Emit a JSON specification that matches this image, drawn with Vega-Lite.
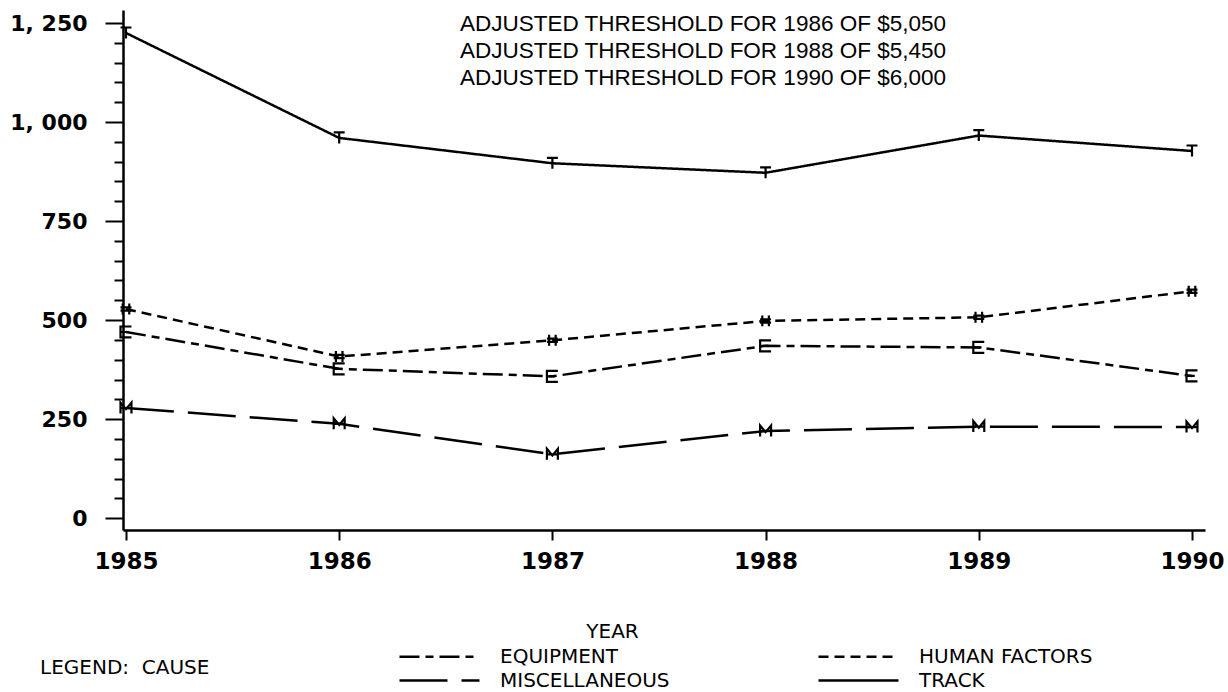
{
  "$schema": "https://vega.github.io/schema/vega-lite/v6.json",
  "width": 1082,
  "height": 520,
  "autosize": {"type": "none"},
  "padding": {"left": 123, "top": 10, "right": 23, "bottom": 162},
  "background": "white",
  "config": {"view": {"stroke": null}},
  "title": {
    "text": ["ADJUSTED THRESHOLD FOR 1986 OF $5,050", "ADJUSTED THRESHOLD FOR 1988 OF $5,450", "ADJUSTED THRESHOLD FOR 1990 OF $6,000"],
    "anchor": "start",
    "frame": "group",
    "dx": 337,
    "offset": -97,
    "baseline": "alphabetic",
    "lineHeight": 27,
    "font": "Liberation Sans",
    "fontSize": 22.5,
    "fontWeight": "normal",
    "color": "black"
  },
  "data": {
    "values": [
      {"year": 1985, "cause": "EQUIPMENT", "value": 470},
      {"year": 1986, "cause": "EQUIPMENT", "value": 377},
      {"year": 1987, "cause": "EQUIPMENT", "value": 358},
      {"year": 1988, "cause": "EQUIPMENT", "value": 435},
      {"year": 1989, "cause": "EQUIPMENT", "value": 431},
      {"year": 1990, "cause": "EQUIPMENT", "value": 359},
      {"year": 1985, "cause": "HUMAN FACTORS", "value": 528},
      {"year": 1986, "cause": "HUMAN FACTORS", "value": 408},
      {"year": 1987, "cause": "HUMAN FACTORS", "value": 449},
      {"year": 1988, "cause": "HUMAN FACTORS", "value": 498},
      {"year": 1989, "cause": "HUMAN FACTORS", "value": 507},
      {"year": 1990, "cause": "HUMAN FACTORS", "value": 573},
      {"year": 1985, "cause": "MISCELLANEOUS", "value": 278},
      {"year": 1986, "cause": "MISCELLANEOUS", "value": 238},
      {"year": 1987, "cause": "MISCELLANEOUS", "value": 161},
      {"year": 1988, "cause": "MISCELLANEOUS", "value": 220},
      {"year": 1989, "cause": "MISCELLANEOUS", "value": 231},
      {"year": 1990, "cause": "MISCELLANEOUS", "value": 230},
      {"year": 1985, "cause": "TRACK", "value": 1225},
      {"year": 1986, "cause": "TRACK", "value": 960},
      {"year": 1987, "cause": "TRACK", "value": 896},
      {"year": 1988, "cause": "TRACK", "value": 872},
      {"year": 1989, "cause": "TRACK", "value": 966},
      {"year": 1990, "cause": "TRACK", "value": 927}
    ]
  },
  "encoding": {
    "x": {
      "field": "year",
      "type": "quantitative",
      "scale": {"domain": [1984.986, 1990.061], "nice": false, "zero": false},
      "axis": {
        "values": [1985, 1986, 1987, 1988, 1989, 1990],
        "format": "d",
        "grid": false,
        "domainColor": "black",
        "domainWidth": 2.5,
        "tickColor": "black",
        "tickWidth": 2,
        "tickSize": 10,
        "labelFont": "DejaVu Sans",
        "labelFontWeight": "bold",
        "labelFontSize": 23,
        "labelColor": "black",
        "labelPadding": 10,
        "labelFlush": false,
        "title": "YEAR",
        "titleFont": "DejaVu Sans",
        "titleFontSize": 20,
        "titleFontWeight": "normal",
        "titleColor": "black",
        "titleX": 489,
        "titleY": 101,
        "titleAlign": "center",
        "titleBaseline": "middle"
      }
    },
    "y": {
      "field": "value",
      "type": "quantitative",
      "scale": {"domain": [-30, 1283], "nice": false, "zero": false},
      "axis": {
        "values": [0, 50, 100, 150, 200, 250, 300, 350, 400, 450, 500, 550, 600, 650, 700, 750, 800, 850, 900, 950, 1000, 1050, 1100, 1150, 1200, 1250],
        "format": ",d",
        "labelExpr": "datum.value % 250 === 0 ? (datum.value >= 1000 ? replace(datum.label, ',', ', ') : datum.label) : ''",
        "grid": false,
        "domainColor": "black",
        "domainWidth": 2.5,
        "tickColor": "black",
        "tickWidth": 2,
        "tickSize": {"condition": {"test": "datum.value % 250 === 0", "value": 18}, "value": 9},
        "labelFont": "DejaVu Sans",
        "labelFontWeight": "bold",
        "labelFontSize": 22,
        "labelColor": "black",
        "labelPadding": 18,
        "labelFlush": false,
        "labelOverlap": false,
        "title": null
      }
    }
  },
  "layer": [
    {
      "mark": {"type": "line", "color": "black", "strokeWidth": 2.5},
      "encoding": {
        "strokeDash": {
          "field": "cause",
          "type": "nominal",
          "scale": {
            "domain": ["EQUIPMENT", "MISCELLANEOUS", "HUMAN FACTORS", "TRACK"],
            "range": [[20, 6, 8, 6], [48, 14], [10, 6], [1, 0]]
          },
          "legend": {
            "orient": "none",
            "legendX": -83,
            "legendY": 635,
            "columns": 2,
            "title": "LEGEND:\u00a0\u00a0CAUSE",
            "titleOrient": "left",
            "titleAnchor": "middle",
            "titleBaseline": "middle",
            "titleFont": "DejaVu Sans",
            "titleFontSize": 20,
            "titleFontWeight": "normal",
            "titleColor": "black",
            "titlePadding": 190,
            "labelFont": "DejaVu Sans",
            "labelFontSize": 20,
            "labelColor": "black",
            "labelLimit": 400,
            "symbolType": "M-4,0H4",
            "symbolSize": 400,
            "symbolOffset": 28,
            "labelOffset": 49,
            "symbolStrokeWidth": 2.5,
            "symbolStrokeColor": "black",
            "columnPadding": 143,
            "rowPadding": 2
          }
        }
      }
    },
    {
      "transform": [{"filter": "datum.cause === 'EQUIPMENT'"}],
      "mark": {"type": "point", "filled": false, "color": "black", "strokeWidth": 2.2, "size": 120, "opacity": 1, "shape": "M1,-1H-1V1H1M-1,0H0.5"}
    },
    {
      "transform": [{"filter": "datum.cause === 'HUMAN FACTORS'"}],
      "mark": {"type": "point", "filled": false, "color": "black", "strokeWidth": 2.2, "size": 120, "opacity": 1, "shape": "M-0.6,-1V1M0.6,-1V1M-1,-0.3H1M-1,0.3H1"}
    },
    {
      "transform": [{"filter": "datum.cause === 'MISCELLANEOUS'"}],
      "mark": {"type": "point", "filled": false, "color": "black", "strokeWidth": 2.2, "size": 120, "opacity": 1, "shape": "M-1,1V-1L0,0.2L1,-1V1M-1,0H1"}
    },
    {
      "transform": [{"filter": "datum.cause === 'TRACK'"}],
      "mark": {"type": "point", "filled": false, "color": "black", "strokeWidth": 2.2, "size": 120, "opacity": 1, "shape": "M-1,-1H1M0,-1V1"}
    }
  ]
}
